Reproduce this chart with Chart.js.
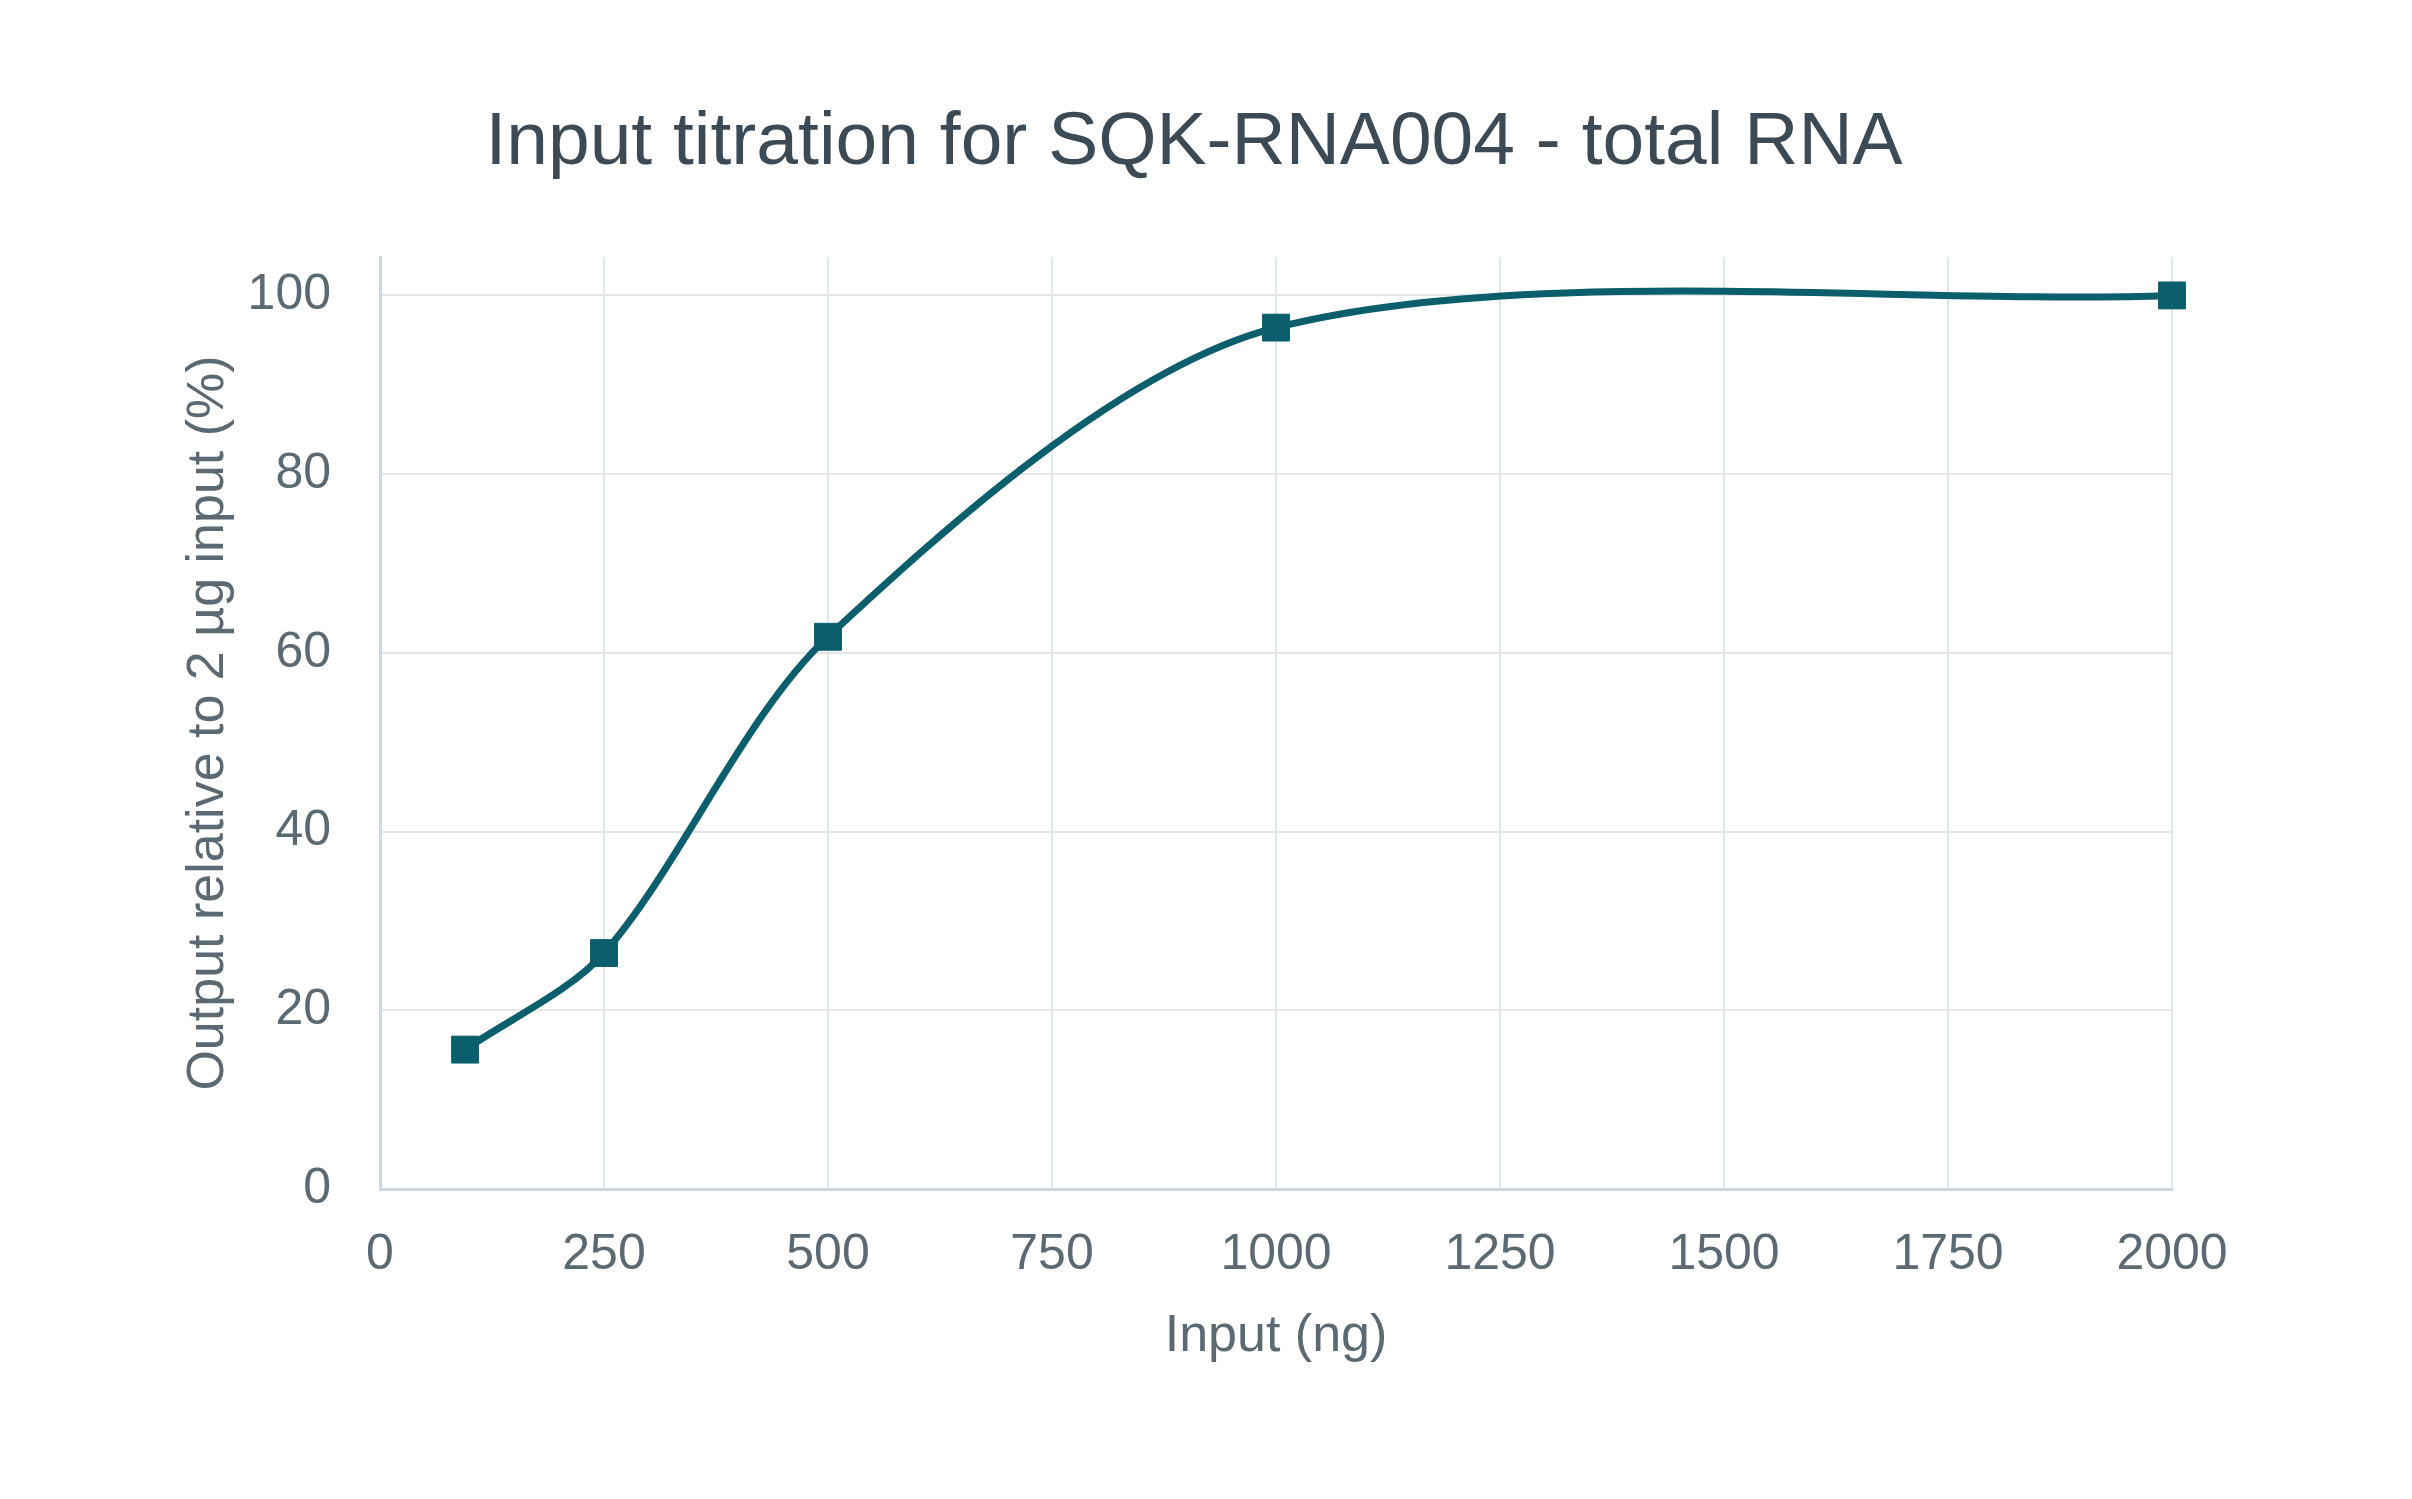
<!DOCTYPE html>
<html>
<head>
<meta charset="utf-8">
<script src="https://cdn.jsdelivr.net/npm/chart.js@4"></script>
<style>
  html, body { margin: 0; padding: 0; background: #ffffff; }
  #wrap { width: 2412px; height: 1499px; position: relative; }
</style>
</head>
<body>
<div id="wrap"><canvas id="titrationChart"></canvas></div>
<script>
// Input amount (ng) and output relative to 2 µg input (%)
const inputNg = [95, 250, 500, 1000, 2000];
const outputPct = [15.6, 26.4, 61.8, 96.4, 100];
const xTicks = [0, 250, 500, 750, 1000, 1250, 1500, 1750, 2000];
const yTicks = [0, 20, 40, 60, 80, 100];

const chartTitle = 'Input titration for SQK-RNA004 - total RNA';
const xTitle = 'Input (ng)';
const yTitle = 'Output relative to 2 µg input (%)';

const fontFamily = '"Liberation Sans", Arial, sans-serif';
const lineColor = '#0b5e6b';
const tickColor = '#5b6973';
const gridColor = '#e2e7eb';
const borderColor = '#cfd8de';

const ctx = document.getElementById('titrationChart').getContext('2d');
new Chart(ctx, {
    type: 'line',
    data: {
        datasets: [{
            label: 'Output',
            data: inputNg.map((x, i) => ({ x: x, y: outputPct[i] })),
            borderColor: lineColor,
            backgroundColor: lineColor,
            borderWidth: 7,
            tension: 0.3,
            clip: false, // marker at 2000 must not be cut at the chart edge
            pointStyle: 'rect',
            pointRadius: 19,
            pointBorderWidth: 1,
            pointBorderColor: lineColor,
            pointBackgroundColor: lineColor,
            fill: false
        }]
    },
    options: {
        responsive: true,
        maintainAspectRatio: false,
        animation: false,
        layout: {
            padding: { left: 216, right: 240, top: 0, bottom: 131 }
        },
        plugins: {
            legend: { display: false },
            tooltip: { enabled: false },
            title: {
                display: true,
                text: chartTitle,
                color: '#3c4a55',
                font: { family: fontFamily, size: 75, weight: 'normal', lineHeight: 1.2 },
                padding: { top: 98, bottom: 69 }
            }
        },
        scales: {
            x: {
                type: 'linear',
                min: 0,
                max: 2000,
                afterBuildTicks: scale => { scale.ticks = xTicks.map(v => ({ value: v })); },
                afterFit: scale => { scale.height = 179; },
                ticks: {
                    color: tickColor,
                    padding: 36,
                    maxRotation: 0,
                    autoSkip: false,
                    font: { family: fontFamily, size: 50 },
                    callback: v => String(v)
                },
                grid: { color: gridColor, lineWidth: 2, drawTicks: false },
                border: { color: borderColor, width: 3 },
                title: {
                    display: true,
                    text: xTitle,
                    color: tickColor,
                    font: { family: fontFamily, size: 52, lineHeight: 1.2 },
                    padding: 0
                }
            },
            y: {
                min: 0,
                max: 104.3,
                afterBuildTicks: scale => { scale.ticks = yTicks.map(v => ({ value: v })); },
                afterFit: scale => { scale.width = 380 - 216; },
                ticks: {
                    color: tickColor,
                    padding: 49,
                    font: { family: fontFamily, size: 50 }
                },
                grid: { color: gridColor, lineWidth: 2, drawTicks: false },
                border: { color: borderColor, width: 3 },
                title: {
                    display: true,
                    text: yTitle,
                    color: tickColor,
                    font: { family: fontFamily, size: 52, lineHeight: 1.2 },
                    padding: { top: -39, bottom: 0 }
                }
            }
        }
    }
});
</script>
</body>
</html>
